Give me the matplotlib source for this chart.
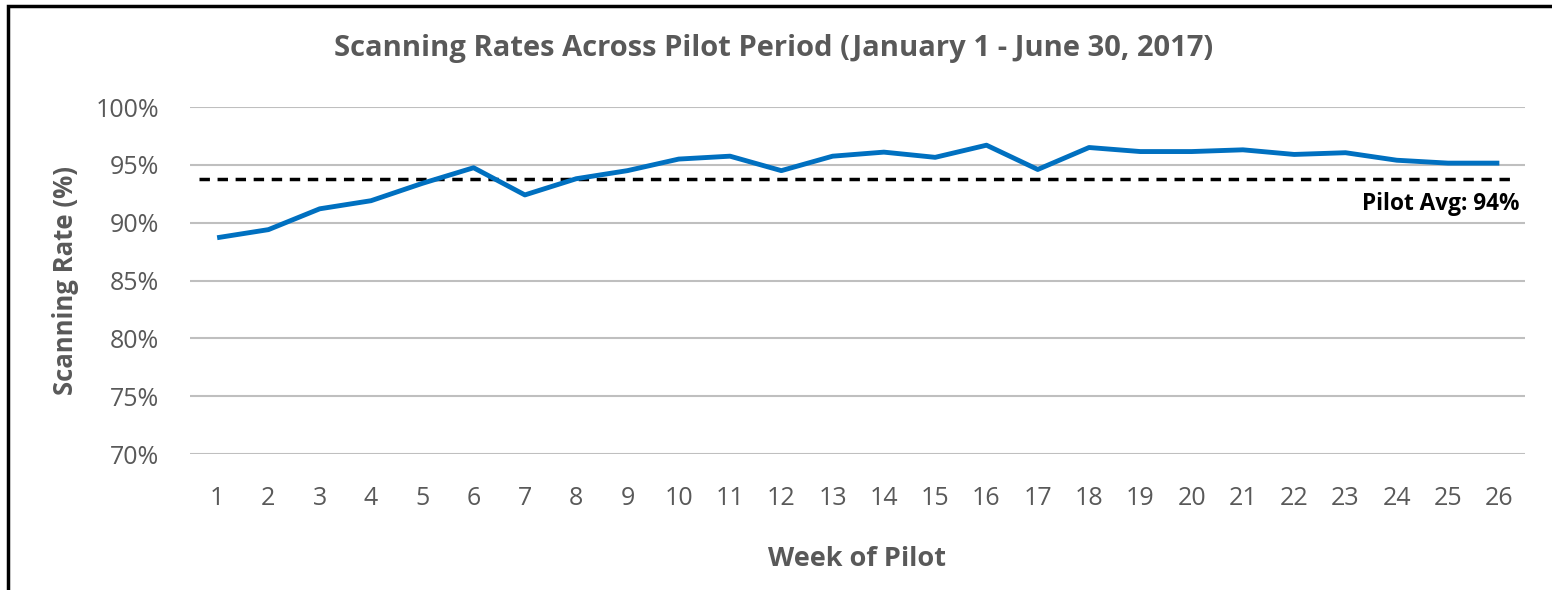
import matplotlib.pyplot as plt
from matplotlib.patches import Rectangle
from matplotlib.ticker import FuncFormatter

plt.rcParams['font.family'] = ['Open Sans', 'DejaVu Sans']

# weekly scanning rate (%)
weeks = list(range(1, 27))
rates = [88.7, 89.4, 91.2, 91.9, 93.4, 94.75, 92.4, 93.8, 94.5, 95.5,
         95.75, 94.5, 95.75, 96.1, 95.65, 96.7, 94.6, 96.5, 96.15, 96.15,
         96.3, 95.9, 96.05, 95.4, 95.15, 95.15]
pilot_avg = 93.8
avg_label = "Pilot Avg: 94%"
yticks = [70, 75, 80, 85, 90, 95, 100]

grey = '#595959'

fig = plt.figure(figsize=(15.52, 5.9), dpi=100)
ax = fig.add_axes([0.1224, 0.2305, 0.8602, 0.5881])

for y in yticks:
    ax.axhline(y, color='#bfbfbf', lw=1.5, zorder=1)

ax.plot(weeks, rates, color='#0070c0', lw=3.5, solid_capstyle='butt', zorder=3)
ax.plot([0.65, 26.25], [pilot_avg, pilot_avg], color='black', lw=2.5,
        ls=(0, (3, 2.2)), zorder=2)
ax.text(26.4, 91.6, avg_label, ha='right', va='center', fontsize=16.3,
        fontweight='bold', color='black')

ax.set_xlim(0.47, 26.5)
ax.set_ylim(70, 100)
ax.set_xticks(weeks)
ax.set_yticks(yticks)
ax.yaxis.set_major_formatter(FuncFormatter(lambda v, p: f"{v:.0f}%"))
ax.tick_params(length=0, labelsize=18, labelcolor=grey)
ax.tick_params(axis='x', pad=23)
ax.tick_params(axis='y', pad=22)
for s in ax.spines.values():
    s.set_visible(False)

ax.set_xlabel("Week of Pilot", fontsize=19.5, fontweight='bold', color=grey, labelpad=25)
ax.set_ylabel("Scanning Rate (%)", fontsize=18.5, fontweight='bold', color=grey, labelpad=12)
fig.text(0.4985, 0.918, "Scanning Rates Across Pilot Period (January 1 - June 30, 2017)",
         ha='center', va='center', fontsize=21, fontweight='bold', color=grey)

# outer frame (left and top edges visible)
fig.patches.append(Rectangle((8 / 1552, -0.1), 1.2, 1 - 6 / 590 + 0.1,
                             transform=fig.transFigure, fill=False,
                             edgecolor='black', lw=2.5))

fig.savefig('out.png', dpi=100)
